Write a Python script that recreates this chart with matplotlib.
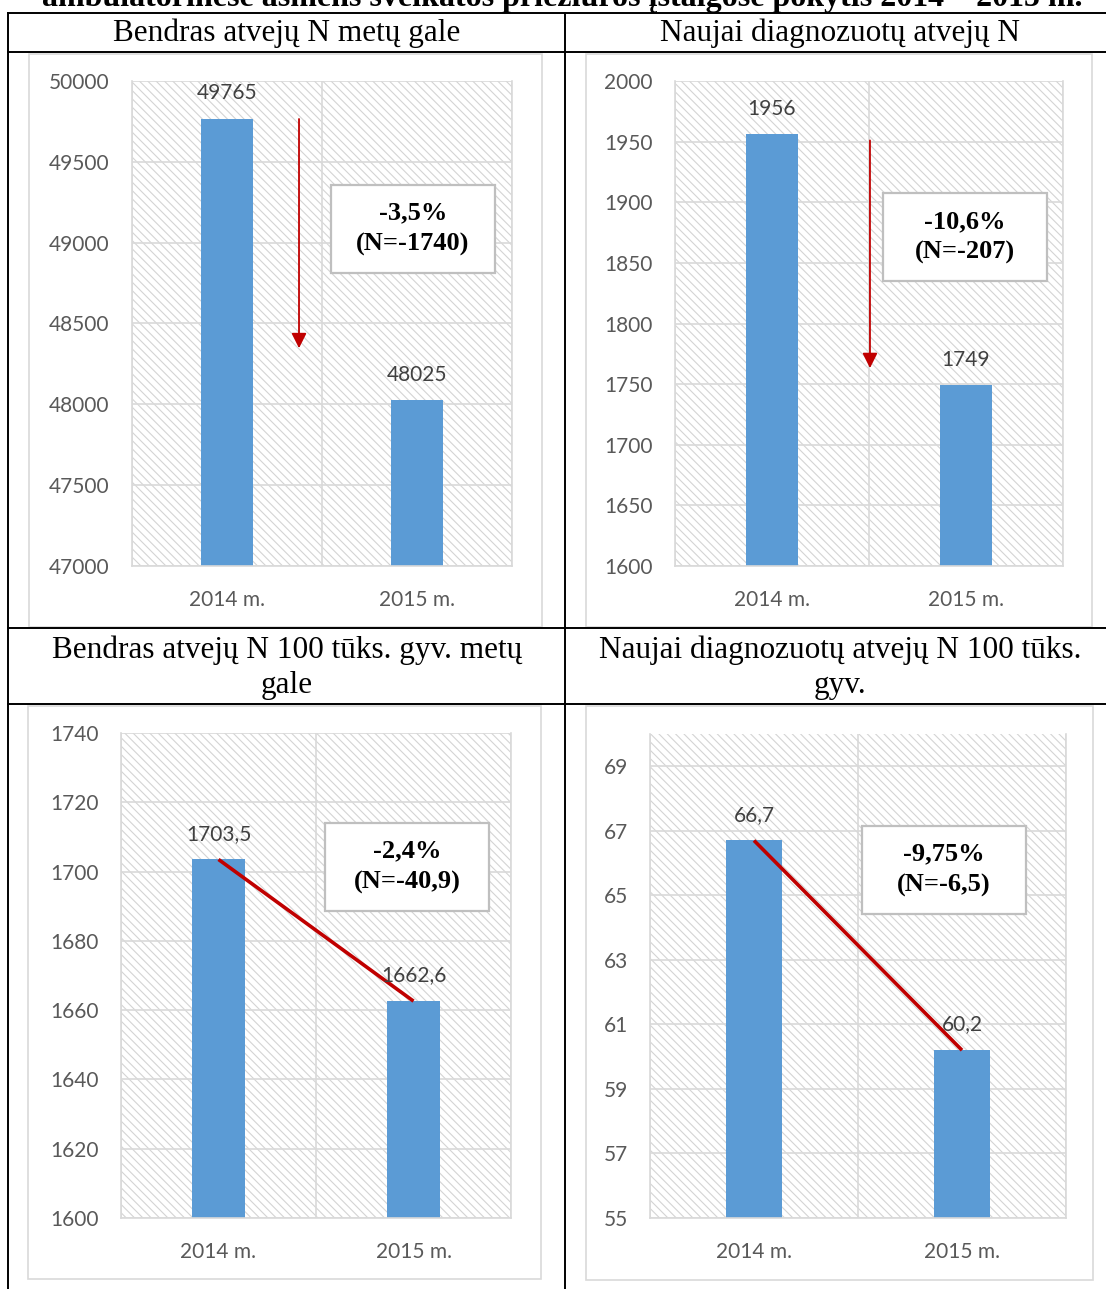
import matplotlib
matplotlib.use("Agg")
import matplotlib.pyplot as plt
from matplotlib.patches import Rectangle
from matplotlib.lines import Line2D
import numpy as np

# ---------------- data ----------------
categories = ["2014 m.", "2015 m."]
total_cases = [49765, 48025]
new_cases = [1956, 1749]
total_per100k = [1703.5, 1662.6]
new_per100k = [66.7, 60.2]

panel_titles = ["Bendras atvejų N metų gale",
                "Naujai diagnozuotų atvejų N",
                "Bendras atvejų N 100 tūks. gyv. metų\ngale",
                "Naujai diagnozuotų atvejų N 100 tūks.\ngyv."]
change_texts = ["-3,5%\n(N=-1740)", "-10,6%\n(N=-207)",
                "-2,4%\n(N=-40,9)", "-9,75%\n(N=-6,5)"]
y_ranges = [(47000, 50000), (1600, 2000), (1600, 1740), (55, 70)]
y_ticks = [np.arange(47000, 50001, 500), np.arange(1600, 2001, 50),
           np.arange(1600, 1741, 20), np.arange(55, 70, 2)]
page_title = "ambulatorinėse asmens sveikatos priežiūros įstaigose pokytis 2014 – 2015 m."

# ---------------- style ----------------
W, H = 1106, 1289
BAR = "#5B9BD5"
GRID = "#D9D9D9"
TICK = "#595959"
LABEL = "#404040"
RED = "#C00000"
SANS = ["Lato", "DejaVu Sans"]
SERIF = ["Liberation Serif", "DejaVu Serif"]
HEAD_FS = 22.5
plt.rcParams["hatch.linewidth"] = 0.8

fig = plt.figure(figsize=(W / 100, H / 100), dpi=100)
fig.patch.set_facecolor("white")


def fig_line(x0, y0, x1, y1, **kw):
    fig.add_artist(Line2D([x0 / W, x1 / W], [1 - y0 / H, 1 - y1 / H],
                          transform=fig.transFigure, **kw))


def fig_rect(l, t, r, b, **kw):
    fig.add_artist(Rectangle((l / W, 1 - b / H), (r - l) / W, (b - t) / H,
                             transform=fig.transFigure, **kw))


# table lines
for yy in (13, 52, 628, 704):
    fig_line(8, yy, W, yy, color="black", lw=1.4)
for xx in (8, 565):
    fig_line(xx, 13, xx, H, color="black", lw=1.4)

# page title (cut off at top, as in the source)
fig.text(562 / W, 1 - 6 / H, page_title, ha="center", va="baseline",
         family=SERIF, fontsize=23, fontweight="bold", color="black")

# header texts
fig.text(287 / W, 1 - 33 / H, panel_titles[0], ha="center", va="center",
         family=SERIF, fontsize=HEAD_FS)
fig.text(840 / W, 1 - 33 / H, panel_titles[1], ha="center", va="center",
         family=SERIF, fontsize=HEAD_FS)
for i, cx in ((2, 287), (3, 840)):
    l1, l2 = panel_titles[i].split("\n")
    fig.text(cx / W, 1 - 650 / H, l1, ha="center", va="center",
             family=SERIF, fontsize=HEAD_FS)
    fig.text(cx / W, 1 - 685 / H, l2, ha="center", va="center",
             family=SERIF, fontsize=HEAD_FS)

# chart frames
for (l, t, r, b) in [(29, 54, 542, 627), (586, 54, 1092, 627),
                     (28, 706, 541, 1279), (586, 706, 1093, 1280)]:
    fig_rect(l, t, r, b, fill=False, edgecolor=GRID, lw=1.2)

# plot areas (pixel boxes)
plot_boxes = [(132, 81, 512, 566), (675, 81, 1063, 566),
              (121, 733, 511, 1218), (650, 734, 1066, 1218)]
series = [total_cases, new_cases, total_per100k, new_per100k]
box_centers = [(0.739, 0.695), (0.747, 0.678), (0.733, 0.724), (0.706, 0.72)]
BOX_W, BOX_H = 164, 88


def fmt(v):
    if float(v).is_integer():
        return f"{int(v)}"
    return f"{v}".replace(".", ",")


for i, ((l, t, r, b), vals) in enumerate(zip(plot_boxes, series)):
    ax = fig.add_axes([l / W, 1 - b / H, (r - l) / W, (b - t) / H])
    ax.set_xlim(-0.5, 1.5)
    ax.set_ylim(*y_ranges[i])
    # hatched background
    ax.add_patch(Rectangle((0, 0), 1, 1, transform=ax.transAxes,
                           facecolor="white", edgecolor="#D4D4D4",
                           hatch="\\\\\\\\", lw=0, zorder=0))
    ax.set_axisbelow(True)
    x = np.arange(len(categories))
    ax.bar(x, vals, width=0.27, color=BAR, zorder=2)
    for xi, v in zip(x, vals):
        ax.annotate(fmt(v), (xi, v), xytext=(0, 18.5), textcoords="offset points",
                    ha="center", va="center", fontsize=15, family=SANS,
                    color=LABEL, zorder=4)
    ax.set_xticks(x)
    ax.set_xticklabels(categories)
    ax.set_xticks([-0.5, 0.5, 1.5], minor=True)
    ax.set_yticks(y_ticks[i])
    ax.set_yticklabels([f"{int(t)}" for t in y_ticks[i]])
    ax.grid(axis="y", which="major", color=GRID, lw=1.2)
    ax.grid(axis="x", which="minor", color=GRID, lw=1.2)
    ax.tick_params(axis="both", which="both", length=0, labelsize=15,
                   labelcolor=TICK)
    ax.tick_params(axis="y", pad=16)
    ax.tick_params(axis="x", pad=17)
    for lab in ax.get_xticklabels() + ax.get_yticklabels():
        lab.set_family(SANS)
    ax.spines["top"].set_visible(False)
    for s in ("left", "right", "bottom"):
        ax.spines[s].set_color(GRID)
        ax.spines[s].set_linewidth(1.2)
    ax.set_facecolor("white")

    # change box
    cx, cy = box_centers[i]
    bw = BOX_W / (r - l)
    bh = BOX_H / (b - t)
    ax.add_patch(Rectangle((cx - bw / 2, cy - bh / 2), bw, bh,
                           transform=ax.transAxes, facecolor="white",
                           edgecolor="#BFBFBF", lw=1.6, zorder=5))
    ax.text(cx, cy, change_texts[i], transform=ax.transAxes, ha="center",
            va="center", family=SERIF, fontweight="bold", fontsize=19,
            linespacing=1.45, zorder=6)

    # trend markers
    if i == 0:
        ax.annotate("", xy=(0.379, 0.449), xycoords=("data", "axes fraction"),
                    xytext=(0.379, vals[0]), textcoords="data",
                    arrowprops=dict(arrowstyle="-|>,head_length=0.9,head_width=0.45",
                                    color=RED, lw=1.3, shrinkA=0, shrinkB=0),
                    zorder=3)
    elif i == 1:
        ax.annotate("", xy=(0.505, 0.408), xycoords=("data", "axes fraction"),
                    xytext=(0.505, vals[0] - 5), textcoords="data",
                    arrowprops=dict(arrowstyle="-|>,head_length=0.9,head_width=0.45",
                                    color=RED, lw=1.3, shrinkA=0, shrinkB=0),
                    zorder=3)
    else:
        ax.plot(x, vals, color=RED, lw=2.6, zorder=3, solid_capstyle="butt")

fig.savefig("out.png", dpi=100, facecolor="white")
